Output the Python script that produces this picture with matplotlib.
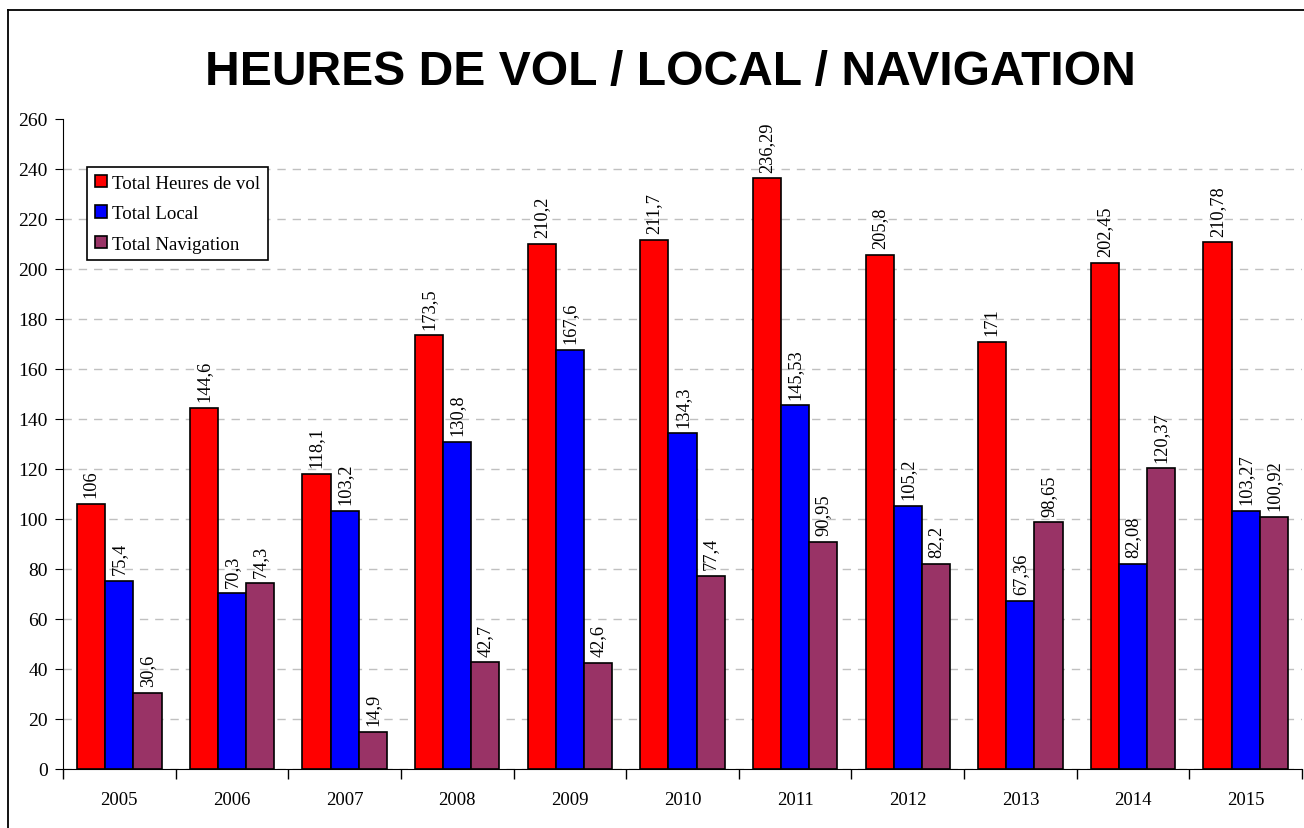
import matplotlib.pyplot as plt
from matplotlib.lines import Line2D
import numpy as np

years = ['2005', '2006', '2007', '2008', '2009', '2010', '2011', '2012', '2013', '2014', '2015']
total_vol = [106, 144.6, 118.1, 173.5, 210.2, 211.7, 236.29, 205.8, 171, 202.45, 210.78]
total_local = [75.4, 70.3, 103.2, 130.8, 167.6, 134.3, 145.53, 105.2, 67.36, 82.08, 103.27]
total_nav = [30.6, 74.3, 14.9, 42.7, 42.6, 77.4, 90.95, 82.2, 98.65, 120.37, 100.92]

series = [
    ('Total Heures de vol', total_vol, '#FF0000'),
    ('Total Local', total_local, '#0000FF'),
    ('Total Navigation', total_nav, '#993366'),
]

plt.rcParams['font.family'] = ['Liberation Serif', 'DejaVu Serif']

fig = plt.figure(figsize=(13.04, 8.29), dpi=100)
ax = fig.add_axes([63 / 1304, 1 - 770 / 829, 1239 / 1304, 650 / 829])

x = np.arange(len(years))
w = 0.25
for i, (name, vals, col) in enumerate(series):
    pos = x + (i - 1) * w
    ax.bar(pos, vals, w, color=col, edgecolor='black', linewidth=1.2, label=name, zorder=3)
    for px, v in zip(pos, vals):
        ax.text(px, v + 2.6, ('%g' % v).replace('.', ','), rotation=90, ha='center', va='bottom',
                fontsize=13.2, zorder=4)

ax.set_xlim(-0.5, len(years) - 0.5)
ax.set_ylim(0, 260)
ax.set_yticks(range(0, 261, 20))
ax.set_xticks(x)
ax.set_xticklabels(years)
ax.set_xticks(np.arange(-0.5, len(years), 1), minor=True)
ax.tick_params(axis='x', which='major', length=0, pad=16, labelsize=13.5)
ax.tick_params(axis='x', which='minor', length=7, direction='out', width=1)
ax.tick_params(axis='y', length=6, direction='out', labelsize=14, pad=5)

ax.yaxis.grid(True, linestyle=(0, (6, 5)), color='#c0c0c0', linewidth=1, zorder=0)
ax.get_ygridlines()[-1].set_visible(False)
ax.spines['top'].set_visible(False)
ax.spines['right'].set_visible(False)

leg = ax.legend(loc='upper left', bbox_to_anchor=(24 / 1239, 1 - 48 / 650), fontsize=13.6,
                frameon=True, fancybox=False, edgecolor='black', handlelength=0.65,
                handleheight=0.65, handletextpad=0.3, labelspacing=0.72, borderpad=0.4,
                borderaxespad=0)
leg.get_frame().set_linewidth(1.2)
leg.get_frame().set_facecolor('white')
leg.get_frame().set_alpha(1)
for h in leg.legend_handles:
    h.set_linewidth(1.2)

fig.text(670 / 1304, 1 - 72 / 829, 'HEURES DE VOL / LOCAL / NAVIGATION', ha='center', va='center',
         fontsize=34.6, fontweight='bold', family='Liberation Sans')

fig.add_artist(Line2D([8 / 1304, 8 / 1304], [0, 1 - 11 / 829], color='black', linewidth=1.3,
                      transform=fig.transFigure))
fig.add_artist(Line2D([8 / 1304, 1], [1 - 11 / 829, 1 - 11 / 829], color='black', linewidth=1.3,
                      transform=fig.transFigure))

fig.savefig('out.png', dpi=100)
